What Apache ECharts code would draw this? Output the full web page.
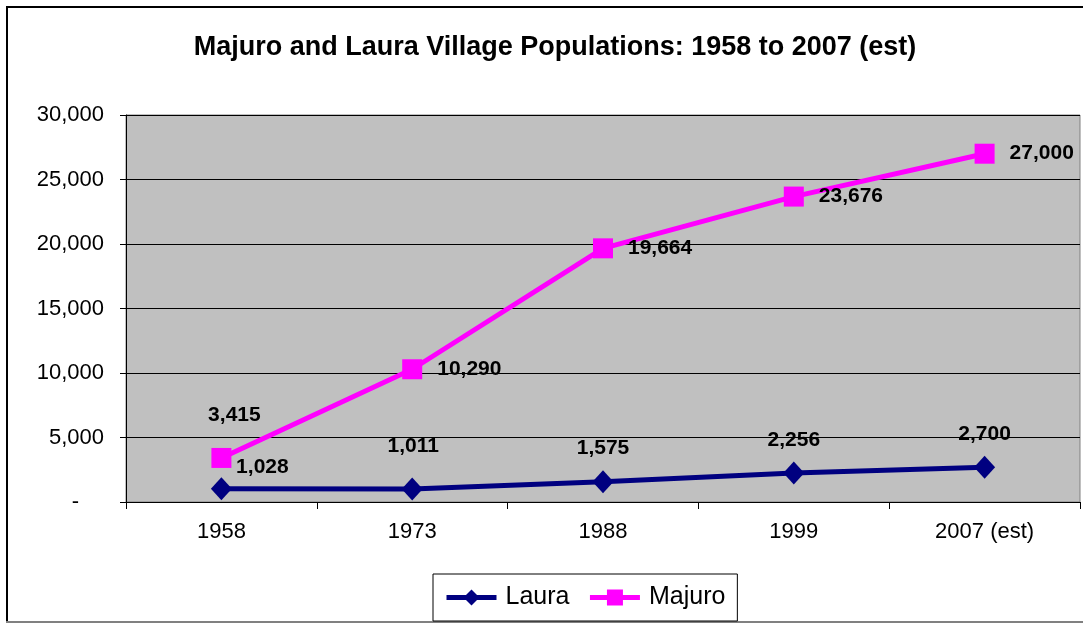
<!DOCTYPE html>
<html>
<head>
<meta charset="utf-8">
<script src="https://cdn.jsdelivr.net/npm/echarts@6/dist/echarts.min.js"></script>
<style>
html,body{margin:0;padding:0;background:#fff;}
#chart{width:1083px;height:624px;}
</style>
</head>
<body>
<div id="chart"></div>
<script>
var categories = ['1958', '1973', '1988', '1999', '2007 (est)'];
var laura = [1028, 1011, 1575, 2256, 2700];
var majuro = [3415, 10290, 19664, 23676, 27000];
var titleText = 'Majuro and Laura Village Populations: 1958 to 2007 (est)';

var FONT = '"Liberation Sans", Arial, sans-serif';
function fmt(v) { return v.toLocaleString('en-US'); }

// label placement (styling only)
var lauraLabelOffset = [[41, -22], [1, -43], [0, -33], [0, -33], [0, -33]];
var majuroLabelOffset = [[13, -43], null, null, null, null];

function buildData(values, offsets) {
  return values.map(function (v, i) {
    var o = offsets[i];
    if (o) {
      return { value: v, label: { position: 'inside', offset: o, align: 'center', verticalAlign: 'middle' } };
    }
    return { value: v };
  });
}

var chart = echarts.init(document.getElementById('chart'), null, { renderer: 'canvas' });
var labelStyle = { show: true, fontFamily: FONT, fontWeight: 'bold', fontSize: 21, color: '#000', formatter: function (p) { return fmt(p.value); } };

chart.setOption({
  backgroundColor: '#fff',
  animation: false,
  title: {
    text: titleText,
    left: 550,
    textAlign: 'center',
    top: 29,
    textStyle: { fontFamily: FONT, fontWeight: 'bold', fontSize: 27, color: '#000' }
  },
  grid: {
    left: 126, right: 3, top: 115, bottom: 122,
    show: true, backgroundColor: '#C0C0C0', borderColor: '#808080', borderWidth: 1
  },
  legend: {
    data: ['Laura', 'Majuro'],
    left: 433, top: 574,
    padding: [11, 12, 11, 11],
    itemGap: 18,
    itemWidth: 50, itemHeight: 20,
    borderColor: '#000', borderWidth: 1,
    backgroundColor: '#fff',
    lineStyle: { width: 5 },
    textStyle: { fontFamily: FONT, fontSize: 25, color: '#000', padding: [0, 0, 0, 4] }
  },
  xAxis: {
    type: 'category',
    data: categories,
    boundaryGap: true,
    axisLine: { lineStyle: { color: '#000', width: 1 } },
    axisTick: { show: true, length: 7, lineStyle: { color: '#000' } },
    axisLabel: { fontFamily: FONT, fontSize: 22, color: '#000', margin: 19 },
    splitLine: { show: false }
  },
  yAxis: {
    type: 'value',
    min: 0, max: 30000, interval: 5000,
    axisLine: { show: true, lineStyle: { color: '#000', width: 1 } },
    axisTick: { show: true, length: 6, lineStyle: { color: '#000' } },
    axisLabel: {
      fontFamily: FONT, fontSize: 22, color: '#000', margin: 22,
      formatter: function (v) { return v === 0 ? '{z|-}' : fmt(v); },
      rich: { z: { fontFamily: FONT, fontSize: 22, color: '#000', padding: [0, 25, 0, 0] } }
    },
    splitLine: { show: true, lineStyle: { color: '#000', width: 1 } }
  },
  series: [
    {
      name: 'Laura',
      type: 'line',
      data: buildData(laura, lauraLabelOffset),
      symbol: 'diamond',
      symbolSize: [21, 23],
      lineStyle: { color: '#000080', width: 5 },
      itemStyle: { color: '#000080' },
      label: labelStyle,
      z: 3
    },
    {
      name: 'Majuro',
      type: 'line',
      data: buildData(majuro, majuroLabelOffset),
      symbol: 'rect',
      symbolSize: 20,
      lineStyle: { color: '#FF00FF', width: 5 },
      itemStyle: { color: '#FF00FF' },
      label: Object.assign({}, labelStyle, { position: 'right', distance: 15 }),
      z: 4
    }
  ],
  graphic: [
    { type: 'line', shape: { x1: 6, y1: 7, x2: 1083, y2: 7 }, style: { stroke: '#000', lineWidth: 2 }, silent: true },
    { type: 'line', shape: { x1: 7, y1: 6, x2: 7, y2: 623 }, style: { stroke: '#000', lineWidth: 2 }, silent: true },
    { type: 'line', shape: { x1: 6, y1: 622, x2: 1083, y2: 622 }, style: { stroke: '#808080', lineWidth: 2 }, silent: true }
  ]
});
</script>
</body>
</html>
